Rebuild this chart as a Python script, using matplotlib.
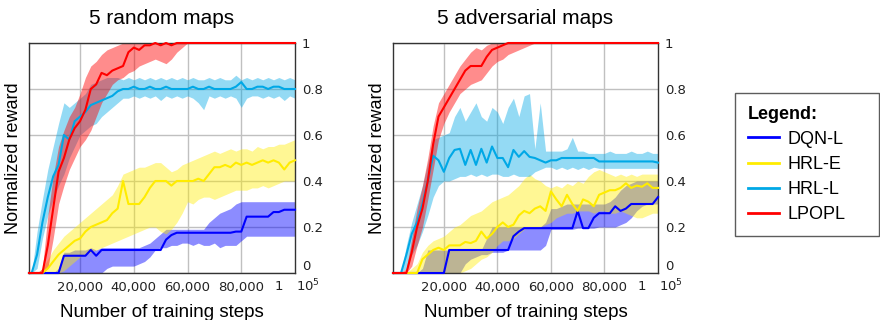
import matplotlib
matplotlib.use("Agg")
import matplotlib.pyplot as plt
from matplotlib.lines import Line2D
import numpy as np

steps = [1000] + list(range(2000, 100001, 2000))

# ---------------- 5 random maps ----------------
r_lpopl = [0, 0, 0, 0, 0.12, 0.28, 0.44, 0.5, 0.58, 0.63,
           0.66, 0.71, 0.8, 0.82, 0.87, 0.86, 0.88, 0.89, 0.9, 0.96,
           0.98, 0.97, 0.99, 0.99, 1, 0.99, 1, 0.99, 1, 1,
           1, 1, 1, 1, 1, 1, 1, 1, 1, 1,
           1, 1, 1, 1, 1, 1, 1, 1, 1, 1, 1]
r_lpopl_lo = [0, 0, 0, 0, 0.02, 0.15, 0.3, 0.38, 0.45, 0.5,
              0.55, 0.58, 0.62, 0.68, 0.74, 0.78, 0.82, 0.84, 0.85, 0.87,
              0.88, 0.9, 0.91, 0.92, 0.93, 0.92, 0.91, 0.93, 0.96, 0.98,
              1, 1, 1, 1, 1, 1, 1, 1, 1, 1,
              1, 1, 1, 1, 1, 1, 1, 1, 1, 1, 1]
r_lpopl_hi = [0, 0, 0, 0.02, 0.25, 0.42, 0.55, 0.62, 0.68, 0.72,
              0.78, 0.85, 0.9, 0.92, 0.95, 0.97, 0.98, 0.99, 1, 1,
              1, 1, 1, 1, 1, 1, 1, 1, 1, 1,
              1, 1, 1, 1, 1, 1, 1, 1, 1, 1,
              1, 1, 1, 1, 1, 1, 1, 1, 1, 1, 1]

r_hrll = [0, 0, 0.08, 0.22, 0.33, 0.42, 0.47, 0.6, 0.58, 0.66,
          0.68, 0.7, 0.73, 0.74, 0.75, 0.76, 0.77, 0.79, 0.8, 0.8,
          0.81, 0.8, 0.8, 0.81, 0.8, 0.8, 0.81, 0.8, 0.8, 0.8,
          0.8, 0.81, 0.8, 0.8, 0.81, 0.8, 0.8, 0.8, 0.8, 0.81,
          0.83, 0.8, 0.8, 0.81, 0.81, 0.8, 0.81, 0.81, 0.8, 0.8, 0.8]
r_hrll_lo = [0, 0, 0.02, 0.15, 0.25, 0.32, 0.38, 0.43, 0.5, 0.55,
             0.6, 0.62, 0.64, 0.65, 0.68, 0.7, 0.72, 0.74, 0.76, 0.76,
             0.77, 0.76, 0.77, 0.76, 0.77, 0.75, 0.77, 0.76, 0.77, 0.76,
             0.77, 0.76, 0.74, 0.71, 0.77, 0.76, 0.77, 0.76, 0.77, 0.76,
             0.72, 0.76, 0.77, 0.77, 0.76, 0.77, 0.76, 0.77, 0.75, 0.77, 0.76]
r_hrll_hi = [0, 0, 0.18, 0.32, 0.45, 0.55, 0.65, 0.74, 0.72, 0.74,
             0.76, 0.78, 0.82, 0.83, 0.84, 0.85, 0.85, 0.85, 0.84, 0.85,
             0.84, 0.85, 0.84, 0.85, 0.84, 0.85, 0.84, 0.85, 0.84, 0.85,
             0.84, 0.85, 0.84, 0.84, 0.85, 0.84, 0.85, 0.84, 0.84, 0.86,
             0.84, 0.85, 0.84, 0.85, 0.84, 0.85, 0.84, 0.85, 0.84, 0.85, 0.84]

r_hrle = [0, 0, 0, 0, 0.02, 0.05, 0.08, 0.1, 0.12, 0.14,
          0.15, 0.18, 0.2, 0.21, 0.22, 0.23, 0.26, 0.28, 0.4, 0.3,
          0.3, 0.3, 0.33, 0.37, 0.4, 0.4, 0.4, 0.38, 0.4, 0.4,
          0.4, 0.4, 0.41, 0.4, 0.43, 0.46, 0.46, 0.47, 0.46, 0.48,
          0.47, 0.48, 0.47, 0.48, 0.49, 0.48, 0.49, 0.48, 0.45, 0.48, 0.49]
r_hrle_lo = [0, 0, 0, 0, 0, 0, 0, 0.01, 0.03, 0.05,
             0.07, 0.08, 0.09, 0.1, 0.11, 0.12, 0.13, 0.14, 0.15, 0.16,
             0.17, 0.18, 0.19, 0.2, 0.2, 0.18, 0.17, 0.19, 0.22, 0.26,
             0.31, 0.3, 0.32, 0.33, 0.33, 0.32, 0.33, 0.34, 0.35, 0.36,
             0.36, 0.36, 0.37, 0.37, 0.38, 0.37, 0.38, 0.39, 0.4, 0.4, 0.4]
r_hrle_hi = [0, 0, 0, 0.02, 0.06, 0.1, 0.13, 0.16, 0.18, 0.2,
             0.22, 0.24, 0.26, 0.28, 0.3, 0.32, 0.34, 0.38, 0.43, 0.44,
             0.45, 0.46, 0.46, 0.47, 0.48, 0.48, 0.46, 0.44, 0.45, 0.47,
             0.48, 0.49, 0.5, 0.51, 0.52, 0.53, 0.52, 0.53, 0.54, 0.53,
             0.54, 0.54, 0.53, 0.55, 0.54, 0.55, 0.55, 0.56, 0.56, 0.57, 0.58]

r_dqn = [0, 0, 0, 0, 0, 0, 0, 0.075, 0.075, 0.075,
         0.075, 0.075, 0.1, 0.075, 0.1, 0.1, 0.1, 0.1, 0.1, 0.1,
         0.1, 0.1, 0.1, 0.1, 0.1, 0.1, 0.145, 0.165, 0.175, 0.175,
         0.175, 0.175, 0.175, 0.175, 0.175, 0.175, 0.175, 0.175, 0.175, 0.18,
         0.18, 0.245, 0.245, 0.245, 0.245, 0.245, 0.265, 0.265, 0.275, 0.275, 0.275]
r_dqn_lo = [0, 0, 0, 0, 0, 0, 0, 0, 0, 0,
            0, 0, 0, 0, 0, 0.02, 0.03, 0.03, 0.03, 0.03,
            0.03, 0.04, 0.05, 0.07, 0.1, 0.11, 0.11, 0.12, 0.12, 0.13,
            0.13, 0.12, 0.13, 0.12, 0.12, 0.13, 0.11, 0.12, 0.12, 0.12,
            0.14, 0.16, 0.16, 0.16, 0.16, 0.16, 0.16, 0.16, 0.16, 0.16, 0.16]
r_dqn_hi = [0, 0, 0, 0, 0, 0, 0.02, 0.09, 0.09, 0.1,
            0.1, 0.1, 0.11, 0.1, 0.11, 0.11, 0.11, 0.11, 0.11, 0.11,
            0.11, 0.11, 0.12, 0.13, 0.15, 0.17, 0.19, 0.19, 0.19, 0.19,
            0.19, 0.19, 0.19, 0.19, 0.22, 0.24, 0.26, 0.27, 0.28, 0.3,
            0.31, 0.31, 0.31, 0.31, 0.31, 0.31, 0.31, 0.31, 0.31, 0.31, 0.31]

# ---------------- 5 adversarial maps ----------------
a_lpopl = [0, 0, 0, 0, 0.09, 0.2, 0.28, 0.4, 0.56, 0.68,
           0.72, 0.76, 0.8, 0.84, 0.88, 0.9, 0.9, 0.9, 0.94, 0.97,
           0.98, 0.99, 1, 1, 1, 1, 1, 1, 1, 1,
           1, 1, 1, 1, 1, 1, 1, 1, 1, 1,
           1, 1, 1, 1, 1, 1, 1, 1, 1, 1, 1]
a_lpopl_lo = [0, 0, 0, 0, 0.03, 0.12, 0.2, 0.32, 0.45, 0.58,
              0.65, 0.7, 0.74, 0.78, 0.8, 0.82, 0.83, 0.84, 0.87, 0.9,
              0.92, 0.93, 0.95, 0.96, 0.97, 0.98, 0.99, 1, 1, 1,
              1, 1, 1, 1, 1, 1, 1, 1, 1, 1,
              1, 1, 1, 1, 1, 1, 1, 1, 1, 1, 1]
a_lpopl_hi = [0, 0, 0, 0.02, 0.15, 0.28, 0.38, 0.5, 0.64, 0.74,
              0.78, 0.82, 0.86, 0.9, 0.93, 0.96, 0.98, 0.97, 0.99, 1,
              1, 1, 1, 1, 1, 1, 1, 1, 1, 1,
              1, 1, 1, 1, 1, 1, 1, 1, 1, 1,
              1, 1, 1, 1, 1, 1, 1, 1, 1, 1, 1]

a_hrll = [0, 0, 0, 0.08, 0.17, 0.22, 0.3, 0.4, 0.51, 0.49,
          0.44, 0.5, 0.535, 0.54, 0.47, 0.535, 0.47, 0.54, 0.48, 0.55,
          0.5, 0.5, 0.46, 0.535, 0.505, 0.53, 0.505, 0.5, 0.49, 0.48,
          0.49, 0.49, 0.5, 0.5, 0.5, 0.5, 0.5, 0.5, 0.5, 0.485,
          0.485, 0.485, 0.485, 0.485, 0.485, 0.485, 0.485, 0.485, 0.485, 0.485, 0.48]
a_hrll_lo = [0, 0, 0, 0.02, 0.08, 0.12, 0.18, 0.25, 0.33, 0.38,
             0.4, 0.4, 0.41, 0.42, 0.42, 0.43, 0.42, 0.43, 0.42, 0.43,
             0.43, 0.42, 0.42, 0.43, 0.42, 0.42, 0.42, 0.44, 0.45, 0.46,
             0.46, 0.45, 0.46, 0.45, 0.46, 0.45, 0.46, 0.45, 0.46, 0.455,
             0.455, 0.455, 0.455, 0.455, 0.455, 0.455, 0.455, 0.455, 0.455, 0.455, 0.455]
a_hrll_hi = [0, 0, 0, 0.12, 0.22, 0.3, 0.38, 0.48, 0.58, 0.59,
             0.6, 0.61, 0.68, 0.72, 0.66, 0.7, 0.74, 0.68, 0.66, 0.72,
             0.7, 0.65, 0.72, 0.76, 0.68, 0.77, 0.78, 0.54, 0.74, 0.53,
             0.53, 0.53, 0.53, 0.54, 0.59, 0.53, 0.53, 0.52, 0.52, 0.52,
             0.52, 0.53, 0.52, 0.52, 0.52, 0.53, 0.52, 0.52, 0.53, 0.52, 0.52]

a_hrle = [0, 0, 0, 0, 0, 0, 0.06, 0.08, 0.1, 0.11,
          0.1, 0.12, 0.12, 0.12, 0.135, 0.13, 0.14, 0.18, 0.15, 0.17,
          0.2, 0.22, 0.2, 0.21, 0.25, 0.27, 0.26, 0.28, 0.29, 0.27,
          0.355, 0.32, 0.29, 0.34, 0.3, 0.27, 0.32, 0.31, 0.29, 0.34,
          0.35, 0.36, 0.36, 0.37, 0.39, 0.37, 0.38, 0.375, 0.39, 0.37, 0.37]
a_hrle_lo = [0, 0, 0, 0, 0, 0, 0, 0, 0, 0,
             0, 0, 0, 0, 0.01, 0.02, 0.04, 0.06, 0.07, 0.09,
             0.12, 0.14, 0.14, 0.15, 0.17, 0.19, 0.2, 0.2, 0.2, 0.21,
             0.22, 0.24, 0.25, 0.26, 0.26, 0.27, 0.27, 0.27, 0.26, 0.27,
             0.27, 0.26, 0.26, 0.27, 0.26, 0.25, 0.24, 0.24, 0.25, 0.26, 0.26]
a_hrle_hi = [0, 0, 0, 0, 0.02, 0.04, 0.09, 0.12, 0.14, 0.15,
             0.16, 0.18, 0.2, 0.21, 0.23, 0.25, 0.26, 0.27, 0.29, 0.31,
             0.32, 0.33, 0.34, 0.36, 0.38, 0.41, 0.43, 0.41, 0.4, 0.38,
             0.37, 0.38, 0.37, 0.39, 0.38, 0.4, 0.39, 0.42, 0.44, 0.45,
             0.44, 0.43, 0.42, 0.43, 0.42, 0.43, 0.42, 0.43, 0.43, 0.43, 0.43]

a_dqn = [0, 0, 0, 0, 0, 0, 0, 0, 0, 0,
         0, 0.1, 0.1, 0.1, 0.1, 0.1, 0.1, 0.1, 0.1, 0.1,
         0.1, 0.1, 0.1, 0.16, 0.18, 0.195, 0.195, 0.195, 0.195, 0.195,
         0.195, 0.195, 0.195, 0.195, 0.195, 0.27, 0.195, 0.195, 0.24, 0.26,
         0.26, 0.26, 0.29, 0.27, 0.28, 0.3, 0.3, 0.3, 0.3, 0.3, 0.33]
a_dqn_lo = [0, 0, 0, 0, 0, 0, 0, 0, 0, 0,
            0, 0, 0, 0, 0.04, 0.06, 0.07, 0.08, 0.08, 0.09,
            0.09, 0.09, 0.1, 0.1, 0.1, 0.1, 0.1, 0.1, 0.1, 0.12,
            0.19, 0.19, 0.19, 0.19, 0.19, 0.195, 0.195, 0.195, 0.195, 0.2,
            0.2, 0.2, 0.2, 0.21, 0.22, 0.24, 0.27, 0.29, 0.3, 0.3, 0.3]
a_dqn_hi = [0, 0, 0, 0, 0, 0, 0.02, 0.1, 0.1, 0.1,
            0.1, 0.1, 0.1, 0.1, 0.1, 0.1, 0.1, 0.1, 0.15, 0.2,
            0.2, 0.2, 0.2, 0.2, 0.2, 0.2, 0.2, 0.2, 0.2, 0.22,
            0.28, 0.28, 0.29, 0.3, 0.3, 0.3, 0.3, 0.3, 0.3, 0.3,
            0.3, 0.31, 0.33, 0.36, 0.38, 0.39, 0.4, 0.4, 0.4, 0.4, 0.4]

labels = ["DQN-L", "HRL-E", "HRL-L", "LPOPL"]
colors = ["#0000ff", "#ffec00", "#00a8e6", "#ff0000"]
fill_alpha = [0.45, 0.42, 0.42, 0.45]

xticks = [20000, 40000, 60000, 80000]
xticklabels = ["20,000", "40,000", "60,000", "80,000"]
yticks = [0, 0.2, 0.4, 0.6, 0.8, 1]
yticklabels = ["0", "0.2", "0.4", "0.6", "0.8", "1"]

TXT = "Liberation Sans"

fig = plt.figure(figsize=(8.8, 3.2), dpi=100)
ax1 = fig.add_axes([29/880, 47/320, 266/880, 230/320])
ax2 = fig.add_axes([393/880, 47/320, 265/880, 230/320])

panels = [
    (ax1, "5 random maps",
     [(r_dqn, r_dqn_lo, r_dqn_hi), (r_hrle, r_hrle_lo, r_hrle_hi),
      (r_hrll, r_hrll_lo, r_hrll_hi), (r_lpopl, r_lpopl_lo, r_lpopl_hi)]),
    (ax2, "5 adversarial maps",
     [(a_dqn, a_dqn_lo, a_dqn_hi), (a_hrle, a_hrle_lo, a_hrle_hi),
      (a_hrll, a_hrll_lo, a_hrll_hi), (a_lpopl, a_lpopl_lo, a_lpopl_hi)]),
]

for ax, title, series in panels:
    for (m, lo, hi), c, a in zip(series, colors, fill_alpha):
        ax.fill_between(steps, lo, hi, color=c, alpha=a, lw=0, zorder=2)
    for (m, lo, hi), c in zip(series, colors):
        ax.plot(steps, m, color=c, lw=1.5, zorder=3, clip_on=False)
    ax.set_xlim(1000, 100000)
    ax.set_ylim(0, 1)
    ax.set_xticks(xticks)
    ax.set_xticklabels(xticklabels)
    ax.set_yticks(yticks)
    ax.set_yticklabels(yticklabels)
    ax.yaxis.tick_right()
    ax.tick_params(axis="both", length=0, labelsize=9.5, colors="#222222")
    ax.tick_params(axis="x", pad=6)
    ax.tick_params(axis="y", pad=5)
    ax.get_yticklabels()[0].set_verticalalignment("bottom")
    ax.grid(True, color="#c0c0c0", lw=1.0, zorder=1)
    ax.set_axisbelow(True)
    for s in ax.spines.values():
        s.set_color("#333333")
        s.set_linewidth(1.0)
    ax.set_title(title, fontsize=15, family=TXT, pad=14)
    ax.set_xlabel("Number of training steps", fontsize=13.5, family=TXT, labelpad=7)
    ax.set_ylabel("Normalized reward", fontsize=13, family=TXT, labelpad=5)
    ax.text(0.94, -0.03, "1", transform=ax.transAxes, ha="center", va="top",
            fontsize=9.5, color="#222222")
    ax.text(1.005, -0.022, r"$10^5$", transform=ax.transAxes, ha="left", va="top",
            fontsize=9.5, color="#222222")

handles = [Line2D([0], [0], color=c, lw=2.0) for c in colors]
leg = fig.legend(handles, labels, loc="upper left",
                 bbox_to_anchor=(735/880, 1 - 235/320, 144/880, 142/320), mode="expand",
                 title="Legend:", alignment="left", fancybox=False, frameon=True,
                 prop={"family": TXT, "size": 13},
                 title_fontproperties={"family": TXT, "size": 13, "weight": "bold"},
                 handlelength=1.75, handletextpad=0.45, labelspacing=0.45,
                 borderpad=0.7, borderaxespad=0)
leg.get_frame().set_edgecolor("#333333")
leg.get_frame().set_linewidth(1.0)

fig.savefig("out.png", dpi=100)
